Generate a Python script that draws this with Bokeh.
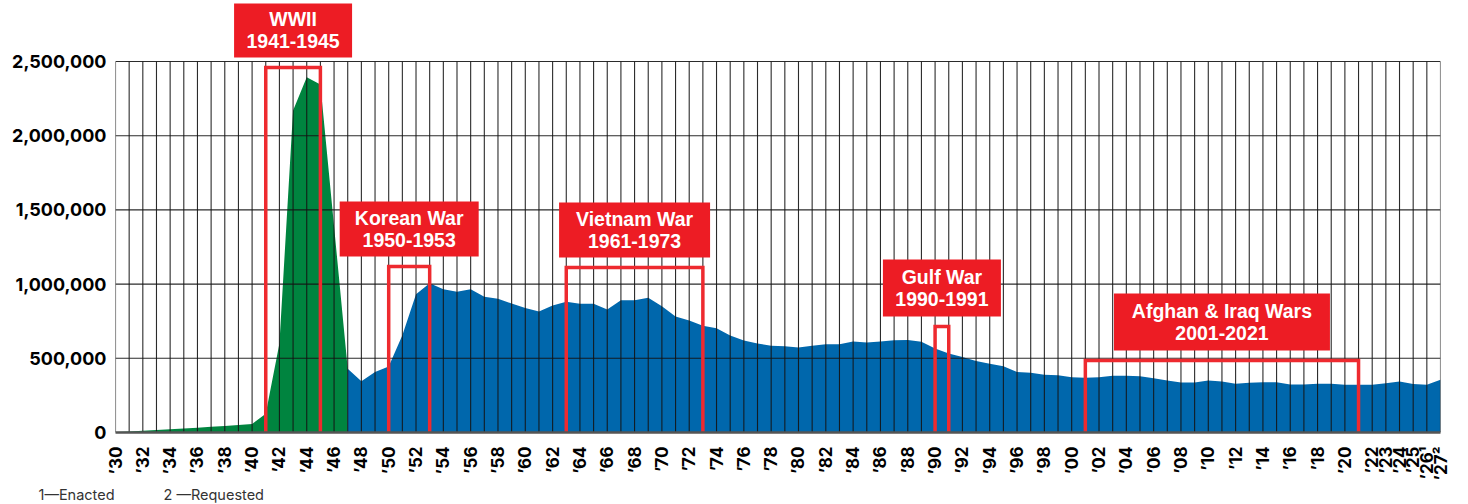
import math
from bokeh.plotting import figure
from bokeh.models import Range1d, FixedTicker, Title, NumeralTickFormatter
from bokeh.core.properties import value
from bokeh.embed import file_html
from bokeh.resources import INLINE

# ---------------- data ----------------
aaf_years = list(range(1930, 1948))
aaf_strength = [4000, 7000, 12000, 17000, 22000, 27000, 32000, 38000, 44000, 50000,
                58000, 127000, 600000, 2170000, 2394000, 2345000, 1390000, 429000]

usaf_years = list(range(1947, 2028))
usaf_strength = [429000, 346000, 407000, 445000, 655000, 931000, 1005000, 966000, 948000, 966000,
                 915000, 901000, 869000, 839000, 816000, 855000, 881000, 867000, 867000, 828000,
                 892000, 892000, 908000, 851000, 782000, 754000, 719000, 703000, 653000, 620000,
                 600000, 585000, 582000, 573000, 584000, 595000, 595000, 614000, 607000, 614000,
                 621000, 623000, 611000, 566000, 532000, 509000, 482000, 464000, 447000, 407000,
                 402000, 389000, 386000, 372000, 369000, 373000, 382000, 382000, 379000, 366000,
                 350000, 337000, 337000, 350000, 344000, 328000, 335000, 339000, 339000, 324000,
                 324000, 328000, 328000, 322000, 322000, 322000, 332000, 344000, 326000, 322000,
                 355000]

war_names = ["WWII", "Korean War", "Vietnam War", "Gulf War", "Afghan & Iraq Wars"]
war_spans = ["1941-1945", "1950-1953", "1961-1973", "1990-1991", "2001-2021"]
bracket_start = [1941, 1950, 1963, 1990, 2001]
bracket_end = [1945, 1953, 1973, 1991, 2021]
bracket_top = [2460000, 1119000, 1112000, 714000, 485000]

y_ticks = [0, 500000, 1000000, 1500000, 2000000, 2500000]
x_ticks = list(range(1930, 2023, 2)) + [2023, 2024, 2025, 2026, 2027]
x_labels = {t: "\u2019%02d" % (t % 100) for t in x_ticks}
x_labels[2026] = "\u201926\u00b9"
x_labels[2027] = "\u201927\u00b2"

footnotes = ["1\u2014Enacted", "2 \u2014Requested"]

# ---------------- layout / style ----------------
W, H = 1468, 504
B_LEFT, B_RIGHT, B_TOP, B_BOTTOM = 115, 28, 0, 72
frame_h = H - B_TOP - B_BOTTOM
frame_w = W - B_LEFT - B_RIGHT
tick_span_px = 371            # pixels from 0 to the top tick
px_val = y_ticks[-1] / tick_span_px
y_end = px_val * frame_h

GREEN = "#00843F"
BLUE = "#0067AC"
RED = "#ED1C24"
GRID = "#141414"

box_w = [118, 139, 151, 118, 216]
box_h = [54, 55, 55, 57, 57]
box_gap = 10

p = figure(width=W, height=H,
           x_range=Range1d(aaf_years[0], usaf_years[-1]),
           y_range=Range1d(0, y_end),
           output_backend="svg", toolbar_location=None,
           min_border_left=B_LEFT, min_border_right=B_RIGHT,
           min_border_top=B_TOP, min_border_bottom=B_BOTTOM)
p.outline_line_color = None
p.grid.grid_line_color = None
p.background_fill_color = "white"

# areas
p.varea(x=aaf_years, y1=0, y2=aaf_strength, fill_color=GREEN)
p.varea(x=usaf_years, y1=0, y2=usaf_strength, fill_color=BLUE)

# grid lines drawn on top of the areas
grid_years = aaf_years + usaf_years[1:]
p.segment(x0=grid_years, y0=0, x1=grid_years, y1=y_ticks[-1],
          line_color=GRID, line_width=1.1, line_alpha=0.9)
p.segment(x0=grid_years[0], y0=y_ticks[1:], x1=grid_years[-1], y1=y_ticks[1:],
          line_color=GRID, line_width=1.1, line_alpha=0.9)

# war brackets
xs = [[s, s, e, e] for s, e in zip(bracket_start, bracket_end)]
ys = [[0, t, t, 0] for t in bracket_top]
p.multi_line(xs=xs, ys=ys, line_color="#EE2A2F", line_width=3.5, line_join="miter")

# label boxes
mids = [(s + e) / 2 for s, e in zip(bracket_start, bracket_end)]
box_y = [t + (box_gap + h / 2) * px_val for t, h in zip(bracket_top, box_h)]
p.rect(x=mids, y=box_y, width=box_w, height=box_h,
       width_units="screen", height_units="screen",
       fill_color=RED, line_color=None)
p.text(x=mids, y=box_y, text=war_names, y_offset=-11,
       text_color="white", text_font=value("Liberation Sans"), text_font_style="bold",
       text_font_size="19.5px", text_align="center", text_baseline="middle")
p.text(x=mids, y=box_y, text=war_spans, y_offset=11,
       text_color="white", text_font=value("Liberation Sans"), text_font_style="bold",
       text_font_size="19.5px", text_align="center", text_baseline="middle")

# axes
p.yaxis.ticker = FixedTicker(ticks=y_ticks)
p.yaxis.formatter = NumeralTickFormatter(format="0,0")
p.yaxis.axis_line_color = None
p.yaxis.major_tick_line_color = None
p.yaxis.minor_tick_line_color = None
p.yaxis.major_tick_in = 0
p.yaxis.major_tick_out = 0
p.yaxis.major_label_standoff = 9
p.yaxis.major_label_text_font = "Inter"
p.yaxis.major_label_text_font_style = "bold"
p.yaxis.major_label_text_font_size = "18px"
p.yaxis.major_label_text_color = "black"

p.xaxis.ticker = FixedTicker(ticks=x_ticks)
p.xaxis.major_label_overrides = x_labels
p.xaxis.major_label_orientation = math.pi / 2
p.xaxis.axis_line_color = "#555555"
p.xaxis.axis_line_width = 2.5
p.xaxis.major_tick_line_color = None
p.xaxis.minor_tick_line_color = None
p.xaxis.major_tick_in = 0
p.xaxis.major_tick_out = 0
p.xaxis.major_label_standoff = 14
p.xaxis.major_label_text_font = "Inter"
p.xaxis.major_label_text_font_style = "bold"
p.xaxis.major_label_text_font_size = "17px"
p.xaxis.major_label_text_color = "black"

# footnotes (bottom-left, below the axis labels)
foot = Title(text=footnotes[0] + "\u00a0" * 12 + footnotes[1], align="left",
             offset=38 - B_LEFT, standoff=0,
             text_font="Inter", text_font_size="14.5px", text_font_style="normal",
             text_color="#333333")
p.add_layout(foot, "below")

open("out.html", "w").write(file_html(p, INLINE))
